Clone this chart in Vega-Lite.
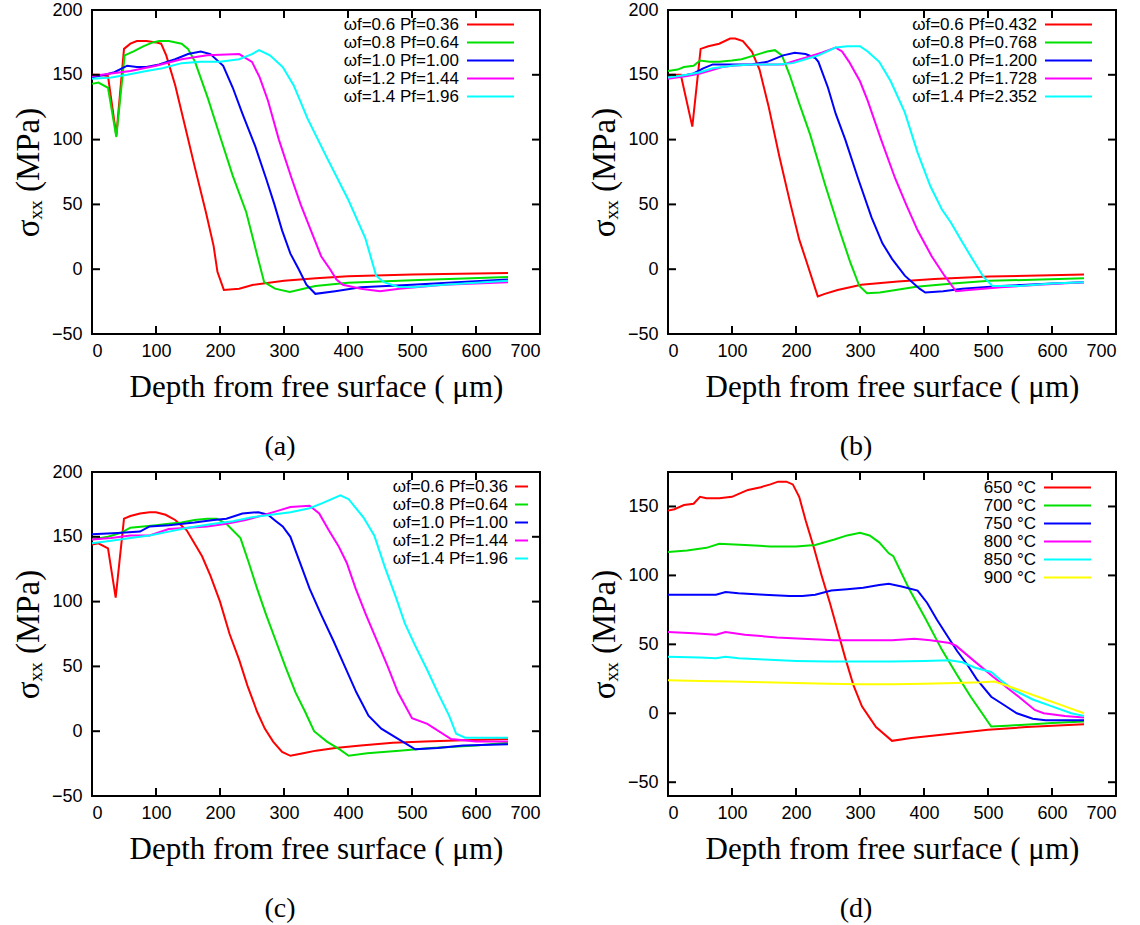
{
  "$schema": "https://vega.github.io/schema/vega-lite/v6.json",
  "padding": {"left": 11, "top": 0, "right": 5, "bottom": 5},
  "background": "white",
  "config": {
    "view": {"stroke": "#000", "strokeWidth": 2},
    "axis": {"grid": false, "domain": false, "ticks": false, "labelFont": "Liberation Sans", "labelFontSize": 18, "labelColor": "#000", "titleFont": "Liberation Serif", "titleFontSize": 31, "titleFontWeight": "normal", "titleColor": "#000"},
    "legend": {"title": null, "orient": "none", "symbolStrokeWidth": 2, "labelAlign": "right", "rowPadding": 0, "padding": 0, "labelLimit": 300, "labelFont": "Liberation Sans", "labelFontSize": 17, "labelColor": "#000"},
    "tick": {"color": "#000", "thickness": 2, "size": 8, "opacity": 1},
    "title": {"font": "Liberation Serif", "fontSize": 28, "fontWeight": "normal", "color": "#000", "orient": "bottom", "anchor": "middle", "dx": -36, "offset": 31}
  },
  "columns": 2,
  "spacing": {"row": 138, "column": 128},
  "bounds": "flush",
  "resolve": {"scale": {"x": "independent", "y": "independent", "color": "independent"}, "legend": {"color": "independent"}},
  "datasets": {
    "tx": [{"t":0},{"t":100},{"t":200},{"t":300},{"t":400},{"t":500},{"t":600},{"t":700}],
    "ty": [{"t":-50},{"t":0},{"t":50},{"t":100},{"t":150},{"t":200}],
    "tyd": [{"t":-50},{"t":0},{"t":50},{"t":100},{"t":150}],
    "a": [
      {"s":"ωf=0.6 Pf=0.36","x":0,"y":150},{"s":"ωf=0.6 Pf=0.36","x":10,"y":150},{"s":"ωf=0.6 Pf=0.36","x":25,"y":149},{"s":"ωf=0.6 Pf=0.36","x":38,"y":103},{"s":"ωf=0.6 Pf=0.36","x":50,"y":170},{"s":"ωf=0.6 Pf=0.36","x":60,"y":174},{"s":"ωf=0.6 Pf=0.36","x":70,"y":176},{"s":"ωf=0.6 Pf=0.36","x":85,"y":176},{"s":"ωf=0.6 Pf=0.36","x":100,"y":175},{"s":"ωf=0.6 Pf=0.36","x":108,"y":174},{"s":"ωf=0.6 Pf=0.36","x":116,"y":165},{"s":"ωf=0.6 Pf=0.36","x":130,"y":142},{"s":"ωf=0.6 Pf=0.36","x":145,"y":111},{"s":"ωf=0.6 Pf=0.36","x":161,"y":78},{"s":"ωf=0.6 Pf=0.36","x":178,"y":44},{"s":"ωf=0.6 Pf=0.36","x":190,"y":18},{"s":"ωf=0.6 Pf=0.36","x":196,"y":-2},{"s":"ωf=0.6 Pf=0.36","x":206,"y":-16},{"s":"ωf=0.6 Pf=0.36","x":230,"y":-15},{"s":"ωf=0.6 Pf=0.36","x":252,"y":-12},{"s":"ωf=0.6 Pf=0.36","x":300,"y":-9},{"s":"ωf=0.6 Pf=0.36","x":350,"y":-7},{"s":"ωf=0.6 Pf=0.36","x":400,"y":-5.5},{"s":"ωf=0.6 Pf=0.36","x":500,"y":-4},{"s":"ωf=0.6 Pf=0.36","x":650,"y":-3},
      {"s":"ωf=0.8 Pf=0.64","x":0,"y":143},{"s":"ωf=0.8 Pf=0.64","x":10,"y":144},{"s":"ωf=0.8 Pf=0.64","x":25,"y":140},{"s":"ωf=0.8 Pf=0.64","x":38,"y":102},{"s":"ωf=0.8 Pf=0.64","x":51,"y":165},{"s":"ωf=0.8 Pf=0.64","x":65,"y":168},{"s":"ωf=0.8 Pf=0.64","x":80,"y":172},{"s":"ωf=0.8 Pf=0.64","x":95,"y":175},{"s":"ωf=0.8 Pf=0.64","x":105,"y":176},{"s":"ωf=0.8 Pf=0.64","x":120,"y":176},{"s":"ωf=0.8 Pf=0.64","x":140,"y":174},{"s":"ωf=0.8 Pf=0.64","x":150,"y":170},{"s":"ωf=0.8 Pf=0.64","x":161,"y":160},{"s":"ωf=0.8 Pf=0.64","x":181,"y":132},{"s":"ωf=0.8 Pf=0.64","x":201,"y":101},{"s":"ωf=0.8 Pf=0.64","x":220,"y":72},{"s":"ωf=0.8 Pf=0.64","x":241,"y":44},{"s":"ωf=0.8 Pf=0.64","x":258,"y":11},{"s":"ωf=0.8 Pf=0.64","x":269,"y":-10},{"s":"ωf=0.8 Pf=0.64","x":286,"y":-15},{"s":"ωf=0.8 Pf=0.64","x":309,"y":-17.5},{"s":"ωf=0.8 Pf=0.64","x":349,"y":-13},{"s":"ωf=0.8 Pf=0.64","x":400,"y":-10.5},{"s":"ωf=0.8 Pf=0.64","x":500,"y":-8.5},{"s":"ωf=0.8 Pf=0.64","x":650,"y":-6},
      {"s":"ωf=1.0 Pf=1.00","x":0,"y":148},{"s":"ωf=1.0 Pf=1.00","x":20,"y":150},{"s":"ωf=1.0 Pf=1.00","x":35,"y":152},{"s":"ωf=1.0 Pf=1.00","x":55,"y":157},{"s":"ωf=1.0 Pf=1.00","x":70,"y":156},{"s":"ωf=1.0 Pf=1.00","x":85,"y":156},{"s":"ωf=1.0 Pf=1.00","x":105,"y":158},{"s":"ωf=1.0 Pf=1.00","x":130,"y":162},{"s":"ωf=1.0 Pf=1.00","x":150,"y":166},{"s":"ωf=1.0 Pf=1.00","x":170,"y":168},{"s":"ωf=1.0 Pf=1.00","x":185,"y":166},{"s":"ωf=1.0 Pf=1.00","x":205,"y":157},{"s":"ωf=1.0 Pf=1.00","x":220,"y":140},{"s":"ωf=1.0 Pf=1.00","x":235,"y":120},{"s":"ωf=1.0 Pf=1.00","x":255,"y":95},{"s":"ωf=1.0 Pf=1.00","x":272,"y":70},{"s":"ωf=1.0 Pf=1.00","x":285,"y":50},{"s":"ωf=1.0 Pf=1.00","x":297,"y":30},{"s":"ωf=1.0 Pf=1.00","x":310,"y":12},{"s":"ωf=1.0 Pf=1.00","x":323,"y":0},{"s":"ωf=1.0 Pf=1.00","x":335,"y":-12},{"s":"ωf=1.0 Pf=1.00","x":349,"y":-19},{"s":"ωf=1.0 Pf=1.00","x":380,"y":-17},{"s":"ωf=1.0 Pf=1.00","x":420,"y":-14},{"s":"ωf=1.0 Pf=1.00","x":500,"y":-12},{"s":"ωf=1.0 Pf=1.00","x":570,"y":-10},{"s":"ωf=1.0 Pf=1.00","x":650,"y":-8},
      {"s":"ωf=1.2 Pf=1.44","x":0,"y":149},{"s":"ωf=1.2 Pf=1.44","x":30,"y":151},{"s":"ωf=1.2 Pf=1.44","x":60,"y":153},{"s":"ωf=1.2 Pf=1.44","x":100,"y":157},{"s":"ωf=1.2 Pf=1.44","x":140,"y":162},{"s":"ωf=1.2 Pf=1.44","x":180,"y":165},{"s":"ωf=1.2 Pf=1.44","x":230,"y":166},{"s":"ωf=1.2 Pf=1.44","x":250,"y":160},{"s":"ωf=1.2 Pf=1.44","x":262,"y":148},{"s":"ωf=1.2 Pf=1.44","x":275,"y":130},{"s":"ωf=1.2 Pf=1.44","x":292,"y":100},{"s":"ωf=1.2 Pf=1.44","x":312,"y":70},{"s":"ωf=1.2 Pf=1.44","x":326,"y":50},{"s":"ωf=1.2 Pf=1.44","x":342,"y":30},{"s":"ωf=1.2 Pf=1.44","x":358,"y":10},{"s":"ωf=1.2 Pf=1.44","x":372,"y":0},{"s":"ωf=1.2 Pf=1.44","x":382,"y":-8},{"s":"ωf=1.2 Pf=1.44","x":392,"y":-12},{"s":"ωf=1.2 Pf=1.44","x":420,"y":-15},{"s":"ωf=1.2 Pf=1.44","x":450,"y":-17},{"s":"ωf=1.2 Pf=1.44","x":480,"y":-15},{"s":"ωf=1.2 Pf=1.44","x":550,"y":-12},{"s":"ωf=1.2 Pf=1.44","x":650,"y":-10},
      {"s":"ωf=1.4 Pf=1.96","x":0,"y":147},{"s":"ωf=1.4 Pf=1.96","x":30,"y":148},{"s":"ωf=1.4 Pf=1.96","x":55,"y":150},{"s":"ωf=1.4 Pf=1.96","x":85,"y":153},{"s":"ωf=1.4 Pf=1.96","x":110,"y":155},{"s":"ωf=1.4 Pf=1.96","x":140,"y":159},{"s":"ωf=1.4 Pf=1.96","x":170,"y":160},{"s":"ωf=1.4 Pf=1.96","x":200,"y":160},{"s":"ωf=1.4 Pf=1.96","x":230,"y":162},{"s":"ωf=1.4 Pf=1.96","x":250,"y":166},{"s":"ωf=1.4 Pf=1.96","x":261,"y":169},{"s":"ωf=1.4 Pf=1.96","x":278,"y":165},{"s":"ωf=1.4 Pf=1.96","x":298,"y":156},{"s":"ωf=1.4 Pf=1.96","x":315,"y":142},{"s":"ωf=1.4 Pf=1.96","x":337,"y":116},{"s":"ωf=1.4 Pf=1.96","x":365,"y":88},{"s":"ωf=1.4 Pf=1.96","x":400,"y":54},{"s":"ωf=1.4 Pf=1.96","x":427,"y":24},{"s":"ωf=1.4 Pf=1.96","x":444,"y":-5},{"s":"ωf=1.4 Pf=1.96","x":456,"y":-10},{"s":"ωf=1.4 Pf=1.96","x":478,"y":-13.5},{"s":"ωf=1.4 Pf=1.96","x":500,"y":-14},{"s":"ωf=1.4 Pf=1.96","x":550,"y":-12},{"s":"ωf=1.4 Pf=1.96","x":650,"y":-9}
    ],
    "b": [
      {"s":"ωf=0.6 Pf=0.432","x":0,"y":150},{"s":"ωf=0.6 Pf=0.432","x":20,"y":150},{"s":"ωf=0.6 Pf=0.432","x":38,"y":110},{"s":"ωf=0.6 Pf=0.432","x":51,"y":170},{"s":"ωf=0.6 Pf=0.432","x":63,"y":172},{"s":"ωf=0.6 Pf=0.432","x":80,"y":174},{"s":"ωf=0.6 Pf=0.432","x":97,"y":178},{"s":"ωf=0.6 Pf=0.432","x":105,"y":178},{"s":"ωf=0.6 Pf=0.432","x":117,"y":176},{"s":"ωf=0.6 Pf=0.432","x":131,"y":168},{"s":"ωf=0.6 Pf=0.432","x":143,"y":154},{"s":"ωf=0.6 Pf=0.432","x":157,"y":126},{"s":"ωf=0.6 Pf=0.432","x":174,"y":87},{"s":"ωf=0.6 Pf=0.432","x":191,"y":51},{"s":"ωf=0.6 Pf=0.432","x":205,"y":23},{"s":"ωf=0.6 Pf=0.432","x":217,"y":5},{"s":"ωf=0.6 Pf=0.432","x":234,"y":-21},{"s":"ωf=0.6 Pf=0.432","x":245,"y":-19},{"s":"ωf=0.6 Pf=0.432","x":265,"y":-16},{"s":"ωf=0.6 Pf=0.432","x":302,"y":-12},{"s":"ωf=0.6 Pf=0.432","x":359,"y":-9.5},{"s":"ωf=0.6 Pf=0.432","x":416,"y":-7.5},{"s":"ωf=0.6 Pf=0.432","x":502,"y":-5.7},{"s":"ωf=0.6 Pf=0.432","x":650,"y":-4},
      {"s":"ωf=0.8 Pf=0.768","x":0,"y":153},{"s":"ωf=0.8 Pf=0.768","x":15,"y":154},{"s":"ωf=0.8 Pf=0.768","x":25,"y":156},{"s":"ωf=0.8 Pf=0.768","x":40,"y":157},{"s":"ωf=0.8 Pf=0.768","x":50,"y":161},{"s":"ωf=0.8 Pf=0.768","x":65,"y":160},{"s":"ωf=0.8 Pf=0.768","x":80,"y":160},{"s":"ωf=0.8 Pf=0.768","x":100,"y":161},{"s":"ωf=0.8 Pf=0.768","x":115,"y":162},{"s":"ωf=0.8 Pf=0.768","x":135,"y":165},{"s":"ωf=0.8 Pf=0.768","x":155,"y":168},{"s":"ωf=0.8 Pf=0.768","x":167,"y":169},{"s":"ωf=0.8 Pf=0.768","x":178,"y":165},{"s":"ωf=0.8 Pf=0.768","x":190,"y":150},{"s":"ωf=0.8 Pf=0.768","x":205,"y":128},{"s":"ωf=0.8 Pf=0.768","x":222,"y":104},{"s":"ωf=0.8 Pf=0.768","x":245,"y":66},{"s":"ωf=0.8 Pf=0.768","x":268,"y":30},{"s":"ωf=0.8 Pf=0.768","x":285,"y":5},{"s":"ωf=0.8 Pf=0.768","x":299,"y":-13},{"s":"ωf=0.8 Pf=0.768","x":311,"y":-18.6},{"s":"ωf=0.8 Pf=0.768","x":331,"y":-18},{"s":"ωf=0.8 Pf=0.768","x":388,"y":-13.5},{"s":"ωf=0.8 Pf=0.768","x":445,"y":-11},{"s":"ωf=0.8 Pf=0.768","x":502,"y":-9},{"s":"ωf=0.8 Pf=0.768","x":650,"y":-7},
      {"s":"ωf=1.0 Pf=1.200","x":0,"y":148},{"s":"ωf=1.0 Pf=1.200","x":20,"y":149},{"s":"ωf=1.0 Pf=1.200","x":40,"y":151},{"s":"ωf=1.0 Pf=1.200","x":55,"y":155},{"s":"ωf=1.0 Pf=1.200","x":70,"y":158},{"s":"ωf=1.0 Pf=1.200","x":100,"y":158},{"s":"ωf=1.0 Pf=1.200","x":130,"y":158},{"s":"ωf=1.0 Pf=1.200","x":155,"y":160},{"s":"ωf=1.0 Pf=1.200","x":180,"y":165},{"s":"ωf=1.0 Pf=1.200","x":198,"y":167},{"s":"ωf=1.0 Pf=1.200","x":215,"y":166},{"s":"ωf=1.0 Pf=1.200","x":230,"y":163},{"s":"ωf=1.0 Pf=1.200","x":235,"y":160},{"s":"ωf=1.0 Pf=1.200","x":250,"y":140},{"s":"ωf=1.0 Pf=1.200","x":262,"y":120},{"s":"ωf=1.0 Pf=1.200","x":277,"y":100},{"s":"ωf=1.0 Pf=1.200","x":297,"y":70},{"s":"ωf=1.0 Pf=1.200","x":318,"y":40},{"s":"ωf=1.0 Pf=1.200","x":335,"y":20},{"s":"ωf=1.0 Pf=1.200","x":350,"y":8},{"s":"ωf=1.0 Pf=1.200","x":370,"y":-5},{"s":"ωf=1.0 Pf=1.200","x":393,"y":-15},{"s":"ωf=1.0 Pf=1.200","x":402,"y":-18},{"s":"ωf=1.0 Pf=1.200","x":430,"y":-17},{"s":"ωf=1.0 Pf=1.200","x":460,"y":-15},{"s":"ωf=1.0 Pf=1.200","x":520,"y":-13},{"s":"ωf=1.0 Pf=1.200","x":600,"y":-11},{"s":"ωf=1.0 Pf=1.200","x":650,"y":-10},
      {"s":"ωf=1.2 Pf=1.728","x":0,"y":147},{"s":"ωf=1.2 Pf=1.728","x":30,"y":149},{"s":"ωf=1.2 Pf=1.728","x":50,"y":151},{"s":"ωf=1.2 Pf=1.728","x":65,"y":153},{"s":"ωf=1.2 Pf=1.728","x":85,"y":156},{"s":"ωf=1.2 Pf=1.728","x":100,"y":157},{"s":"ωf=1.2 Pf=1.728","x":130,"y":158},{"s":"ωf=1.2 Pf=1.728","x":160,"y":158},{"s":"ωf=1.2 Pf=1.728","x":180,"y":158},{"s":"ωf=1.2 Pf=1.728","x":200,"y":161},{"s":"ωf=1.2 Pf=1.728","x":220,"y":164},{"s":"ωf=1.2 Pf=1.728","x":240,"y":167},{"s":"ωf=1.2 Pf=1.728","x":262,"y":171},{"s":"ωf=1.2 Pf=1.728","x":272,"y":168},{"s":"ωf=1.2 Pf=1.728","x":283,"y":160},{"s":"ωf=1.2 Pf=1.728","x":300,"y":145},{"s":"ωf=1.2 Pf=1.728","x":312,"y":130},{"s":"ωf=1.2 Pf=1.728","x":333,"y":100},{"s":"ωf=1.2 Pf=1.728","x":355,"y":70},{"s":"ωf=1.2 Pf=1.728","x":372,"y":50},{"s":"ωf=1.2 Pf=1.728","x":390,"y":30},{"s":"ωf=1.2 Pf=1.728","x":412,"y":10},{"s":"ωf=1.2 Pf=1.728","x":432,"y":-5},{"s":"ωf=1.2 Pf=1.728","x":450,"y":-17},{"s":"ωf=1.2 Pf=1.728","x":470,"y":-16},{"s":"ωf=1.2 Pf=1.728","x":520,"y":-14},{"s":"ωf=1.2 Pf=1.728","x":580,"y":-12},{"s":"ωf=1.2 Pf=1.728","x":650,"y":-10},
      {"s":"ωf=1.4 Pf=2.352","x":0,"y":148},{"s":"ωf=1.4 Pf=2.352","x":30,"y":150},{"s":"ωf=1.4 Pf=2.352","x":50,"y":152},{"s":"ωf=1.4 Pf=2.352","x":70,"y":155},{"s":"ωf=1.4 Pf=2.352","x":100,"y":157},{"s":"ωf=1.4 Pf=2.352","x":130,"y":158},{"s":"ωf=1.4 Pf=2.352","x":170,"y":158},{"s":"ωf=1.4 Pf=2.352","x":195,"y":159},{"s":"ωf=1.4 Pf=2.352","x":215,"y":162},{"s":"ωf=1.4 Pf=2.352","x":235,"y":165},{"s":"ωf=1.4 Pf=2.352","x":262,"y":171},{"s":"ωf=1.4 Pf=2.352","x":280,"y":172},{"s":"ωf=1.4 Pf=2.352","x":300,"y":172},{"s":"ωf=1.4 Pf=2.352","x":312,"y":168},{"s":"ωf=1.4 Pf=2.352","x":330,"y":160},{"s":"ωf=1.4 Pf=2.352","x":348,"y":145},{"s":"ωf=1.4 Pf=2.352","x":370,"y":121},{"s":"ωf=1.4 Pf=2.352","x":390,"y":90},{"s":"ωf=1.4 Pf=2.352","x":410,"y":64},{"s":"ωf=1.4 Pf=2.352","x":428,"y":46},{"s":"ωf=1.4 Pf=2.352","x":442,"y":36},{"s":"ωf=1.4 Pf=2.352","x":456,"y":24},{"s":"ωf=1.4 Pf=2.352","x":473,"y":10},{"s":"ωf=1.4 Pf=2.352","x":493,"y":-6},{"s":"ωf=1.4 Pf=2.352","x":507,"y":-13},{"s":"ωf=1.4 Pf=2.352","x":550,"y":-13},{"s":"ωf=1.4 Pf=2.352","x":600,"y":-11},{"s":"ωf=1.4 Pf=2.352","x":650,"y":-10}
    ],
    "c": [
      {"s":"ωf=0.6 Pf=0.36","x":0,"y":144},{"s":"ωf=0.6 Pf=0.36","x":10,"y":145},{"s":"ωf=0.6 Pf=0.36","x":25,"y":141},{"s":"ωf=0.6 Pf=0.36","x":37,"y":103},{"s":"ωf=0.6 Pf=0.36","x":50,"y":164},{"s":"ωf=0.6 Pf=0.36","x":60,"y":166},{"s":"ωf=0.6 Pf=0.36","x":75,"y":168},{"s":"ωf=0.6 Pf=0.36","x":90,"y":169},{"s":"ωf=0.6 Pf=0.36","x":100,"y":169},{"s":"ωf=0.6 Pf=0.36","x":115,"y":167},{"s":"ωf=0.6 Pf=0.36","x":130,"y":163},{"s":"ωf=0.6 Pf=0.36","x":148,"y":155},{"s":"ωf=0.6 Pf=0.36","x":160,"y":145},{"s":"ωf=0.6 Pf=0.36","x":172,"y":135},{"s":"ωf=0.6 Pf=0.36","x":185,"y":120},{"s":"ωf=0.6 Pf=0.36","x":200,"y":100},{"s":"ωf=0.6 Pf=0.36","x":215,"y":75},{"s":"ωf=0.6 Pf=0.36","x":230,"y":55},{"s":"ωf=0.6 Pf=0.36","x":243,"y":35},{"s":"ωf=0.6 Pf=0.36","x":258,"y":15},{"s":"ωf=0.6 Pf=0.36","x":270,"y":2},{"s":"ωf=0.6 Pf=0.36","x":283,"y":-8},{"s":"ωf=0.6 Pf=0.36","x":297,"y":-16},{"s":"ωf=0.6 Pf=0.36","x":310,"y":-19},{"s":"ωf=0.6 Pf=0.36","x":330,"y":-17},{"s":"ωf=0.6 Pf=0.36","x":350,"y":-15},{"s":"ωf=0.6 Pf=0.36","x":380,"y":-13},{"s":"ωf=0.6 Pf=0.36","x":420,"y":-11},{"s":"ωf=0.6 Pf=0.36","x":470,"y":-9},{"s":"ωf=0.6 Pf=0.36","x":520,"y":-8},{"s":"ωf=0.6 Pf=0.36","x":580,"y":-7},{"s":"ωf=0.6 Pf=0.36","x":650,"y":-6},
      {"s":"ωf=0.8 Pf=0.64","x":0,"y":148},{"s":"ωf=0.8 Pf=0.64","x":25,"y":150},{"s":"ωf=0.8 Pf=0.64","x":45,"y":153},{"s":"ωf=0.8 Pf=0.64","x":60,"y":157},{"s":"ωf=0.8 Pf=0.64","x":80,"y":158},{"s":"ωf=0.8 Pf=0.64","x":100,"y":159},{"s":"ωf=0.8 Pf=0.64","x":120,"y":160},{"s":"ωf=0.8 Pf=0.64","x":140,"y":161},{"s":"ωf=0.8 Pf=0.64","x":160,"y":163},{"s":"ωf=0.8 Pf=0.64","x":180,"y":164},{"s":"ωf=0.8 Pf=0.64","x":195,"y":164},{"s":"ωf=0.8 Pf=0.64","x":210,"y":160},{"s":"ωf=0.8 Pf=0.64","x":232,"y":149},{"s":"ωf=0.8 Pf=0.64","x":245,"y":130},{"s":"ωf=0.8 Pf=0.64","x":258,"y":110},{"s":"ωf=0.8 Pf=0.64","x":272,"y":90},{"s":"ωf=0.8 Pf=0.64","x":287,"y":70},{"s":"ωf=0.8 Pf=0.64","x":302,"y":50},{"s":"ωf=0.8 Pf=0.64","x":318,"y":30},{"s":"ωf=0.8 Pf=0.64","x":333,"y":15},{"s":"ωf=0.8 Pf=0.64","x":347,"y":0},{"s":"ωf=0.8 Pf=0.64","x":367,"y":-8},{"s":"ωf=0.8 Pf=0.64","x":387,"y":-14},{"s":"ωf=0.8 Pf=0.64","x":401,"y":-19},{"s":"ωf=0.8 Pf=0.64","x":430,"y":-17},{"s":"ωf=0.8 Pf=0.64","x":480,"y":-15},{"s":"ωf=0.8 Pf=0.64","x":530,"y":-13},{"s":"ωf=0.8 Pf=0.64","x":600,"y":-11},{"s":"ωf=0.8 Pf=0.64","x":650,"y":-9},
      {"s":"ωf=1.0 Pf=1.00","x":0,"y":152},{"s":"ωf=1.0 Pf=1.00","x":40,"y":153},{"s":"ωf=1.0 Pf=1.00","x":75,"y":154},{"s":"ωf=1.0 Pf=1.00","x":90,"y":158},{"s":"ωf=1.0 Pf=1.00","x":120,"y":159},{"s":"ωf=1.0 Pf=1.00","x":160,"y":161},{"s":"ωf=1.0 Pf=1.00","x":190,"y":163},{"s":"ωf=1.0 Pf=1.00","x":210,"y":164},{"s":"ωf=1.0 Pf=1.00","x":235,"y":168},{"s":"ωf=1.0 Pf=1.00","x":260,"y":169},{"s":"ωf=1.0 Pf=1.00","x":275,"y":167},{"s":"ωf=1.0 Pf=1.00","x":285,"y":163},{"s":"ωf=1.0 Pf=1.00","x":298,"y":158},{"s":"ωf=1.0 Pf=1.00","x":310,"y":150},{"s":"ωf=1.0 Pf=1.00","x":325,"y":130},{"s":"ωf=1.0 Pf=1.00","x":340,"y":110},{"s":"ωf=1.0 Pf=1.00","x":358,"y":90},{"s":"ωf=1.0 Pf=1.00","x":377,"y":70},{"s":"ωf=1.0 Pf=1.00","x":395,"y":50},{"s":"ωf=1.0 Pf=1.00","x":413,"y":30},{"s":"ωf=1.0 Pf=1.00","x":432,"y":12},{"s":"ωf=1.0 Pf=1.00","x":452,"y":2},{"s":"ωf=1.0 Pf=1.00","x":475,"y":-5},{"s":"ωf=1.0 Pf=1.00","x":505,"y":-14},{"s":"ωf=1.0 Pf=1.00","x":540,"y":-13},{"s":"ωf=1.0 Pf=1.00","x":580,"y":-11},{"s":"ωf=1.0 Pf=1.00","x":650,"y":-10},
      {"s":"ωf=1.2 Pf=1.44","x":0,"y":148},{"s":"ωf=1.2 Pf=1.44","x":30,"y":149},{"s":"ωf=1.2 Pf=1.44","x":60,"y":151},{"s":"ωf=1.2 Pf=1.44","x":90,"y":151},{"s":"ωf=1.2 Pf=1.44","x":120,"y":156},{"s":"ωf=1.2 Pf=1.44","x":150,"y":157},{"s":"ωf=1.2 Pf=1.44","x":180,"y":158},{"s":"ωf=1.2 Pf=1.44","x":210,"y":160},{"s":"ωf=1.2 Pf=1.44","x":240,"y":163},{"s":"ωf=1.2 Pf=1.44","x":270,"y":167},{"s":"ωf=1.2 Pf=1.44","x":290,"y":170},{"s":"ωf=1.2 Pf=1.44","x":310,"y":173},{"s":"ωf=1.2 Pf=1.44","x":340,"y":174},{"s":"ωf=1.2 Pf=1.44","x":355,"y":168},{"s":"ωf=1.2 Pf=1.44","x":370,"y":155},{"s":"ωf=1.2 Pf=1.44","x":385,"y":143},{"s":"ωf=1.2 Pf=1.44","x":398,"y":130},{"s":"ωf=1.2 Pf=1.44","x":412,"y":110},{"s":"ωf=1.2 Pf=1.44","x":428,"y":90},{"s":"ωf=1.2 Pf=1.44","x":445,"y":70},{"s":"ωf=1.2 Pf=1.44","x":462,"y":50},{"s":"ωf=1.2 Pf=1.44","x":478,"y":30},{"s":"ωf=1.2 Pf=1.44","x":500,"y":10},{"s":"ωf=1.2 Pf=1.44","x":524,"y":5.7},{"s":"ωf=1.2 Pf=1.44","x":561,"y":-6},{"s":"ωf=1.2 Pf=1.44","x":600,"y":-8},{"s":"ωf=1.2 Pf=1.44","x":650,"y":-8},
      {"s":"ωf=1.4 Pf=1.96","x":0,"y":145},{"s":"ωf=1.4 Pf=1.96","x":30,"y":147},{"s":"ωf=1.4 Pf=1.96","x":60,"y":149},{"s":"ωf=1.4 Pf=1.96","x":90,"y":151},{"s":"ωf=1.4 Pf=1.96","x":120,"y":154},{"s":"ωf=1.4 Pf=1.96","x":150,"y":157},{"s":"ωf=1.4 Pf=1.96","x":190,"y":160},{"s":"ωf=1.4 Pf=1.96","x":220,"y":162},{"s":"ωf=1.4 Pf=1.96","x":250,"y":165},{"s":"ωf=1.4 Pf=1.96","x":280,"y":167},{"s":"ωf=1.4 Pf=1.96","x":310,"y":169},{"s":"ωf=1.4 Pf=1.96","x":340,"y":172},{"s":"ωf=1.4 Pf=1.96","x":360,"y":176},{"s":"ωf=1.4 Pf=1.96","x":388,"y":182},{"s":"ωf=1.4 Pf=1.96","x":401,"y":179},{"s":"ωf=1.4 Pf=1.96","x":424,"y":165},{"s":"ωf=1.4 Pf=1.96","x":441,"y":151},{"s":"ωf=1.4 Pf=1.96","x":458,"y":126},{"s":"ωf=1.4 Pf=1.96","x":475,"y":103},{"s":"ωf=1.4 Pf=1.96","x":489,"y":83},{"s":"ωf=1.4 Pf=1.96","x":504,"y":67},{"s":"ωf=1.4 Pf=1.96","x":524,"y":47},{"s":"ωf=1.4 Pf=1.96","x":541,"y":29},{"s":"ωf=1.4 Pf=1.96","x":558,"y":12},{"s":"ωf=1.4 Pf=1.96","x":569,"y":-2},{"s":"ωf=1.4 Pf=1.96","x":583,"y":-5},{"s":"ωf=1.4 Pf=1.96","x":650,"y":-5}
    ],
    "d": [
      {"s":"650 °C","x":0,"y":147},{"s":"650 °C","x":10,"y":148},{"s":"650 °C","x":25,"y":151},{"s":"650 °C","x":40,"y":152},{"s":"650 °C","x":50,"y":157},{"s":"650 °C","x":60,"y":156},{"s":"650 °C","x":80,"y":156},{"s":"650 °C","x":100,"y":157},{"s":"650 °C","x":115,"y":160},{"s":"650 °C","x":125,"y":162},{"s":"650 °C","x":145,"y":164},{"s":"650 °C","x":160,"y":166},{"s":"650 °C","x":172,"y":168},{"s":"650 °C","x":185,"y":168},{"s":"650 °C","x":195,"y":166},{"s":"650 °C","x":205,"y":157},{"s":"650 °C","x":215,"y":140},{"s":"650 °C","x":228,"y":120},{"s":"650 °C","x":240,"y":100},{"s":"650 °C","x":253,"y":80},{"s":"650 °C","x":265,"y":60},{"s":"650 °C","x":277,"y":40},{"s":"650 °C","x":290,"y":20},{"s":"650 °C","x":303,"y":5},{"s":"650 °C","x":325,"y":-10},{"s":"650 °C","x":350,"y":-20},{"s":"650 °C","x":380,"y":-18},{"s":"650 °C","x":420,"y":-16},{"s":"650 °C","x":460,"y":-14},{"s":"650 °C","x":500,"y":-12},{"s":"650 °C","x":560,"y":-10},{"s":"650 °C","x":650,"y":-8},
      {"s":"700 °C","x":0,"y":117},{"s":"700 °C","x":30,"y":118},{"s":"700 °C","x":60,"y":120},{"s":"700 °C","x":80,"y":123},{"s":"700 °C","x":120,"y":122},{"s":"700 °C","x":160,"y":121},{"s":"700 °C","x":200,"y":121},{"s":"700 °C","x":230,"y":122},{"s":"700 °C","x":260,"y":126},{"s":"700 °C","x":280,"y":129},{"s":"700 °C","x":300,"y":131},{"s":"700 °C","x":315,"y":129},{"s":"700 °C","x":330,"y":124},{"s":"700 °C","x":345,"y":116},{"s":"700 °C","x":352,"y":114},{"s":"700 °C","x":377,"y":90},{"s":"700 °C","x":402,"y":69},{"s":"700 °C","x":428,"y":46},{"s":"700 °C","x":450,"y":29},{"s":"700 °C","x":473,"y":12},{"s":"700 °C","x":505,"y":-9.6},{"s":"700 °C","x":530,"y":-9},{"s":"700 °C","x":570,"y":-8},{"s":"700 °C","x":600,"y":-7},{"s":"700 °C","x":650,"y":-6},
      {"s":"750 °C","x":0,"y":86},{"s":"750 °C","x":50,"y":86},{"s":"750 °C","x":75,"y":86},{"s":"750 °C","x":90,"y":88},{"s":"750 °C","x":110,"y":87},{"s":"750 °C","x":150,"y":86},{"s":"750 °C","x":190,"y":85},{"s":"750 °C","x":210,"y":85},{"s":"750 °C","x":230,"y":86},{"s":"750 °C","x":255,"y":89},{"s":"750 °C","x":280,"y":90},{"s":"750 °C","x":305,"y":91},{"s":"750 °C","x":330,"y":93},{"s":"750 °C","x":345,"y":94},{"s":"750 °C","x":365,"y":92},{"s":"750 °C","x":390,"y":89},{"s":"750 °C","x":405,"y":80},{"s":"750 °C","x":420,"y":68},{"s":"750 °C","x":438,"y":55},{"s":"750 °C","x":452,"y":45},{"s":"750 °C","x":468,"y":35},{"s":"750 °C","x":482,"y":25},{"s":"750 °C","x":505,"y":12},{"s":"750 °C","x":525,"y":6},{"s":"750 °C","x":545,"y":0},{"s":"750 °C","x":570,"y":-4},{"s":"750 °C","x":590,"y":-5},{"s":"750 °C","x":650,"y":-5},
      {"s":"800 °C","x":0,"y":59},{"s":"800 °C","x":40,"y":58},{"s":"800 °C","x":75,"y":57},{"s":"800 °C","x":90,"y":59},{"s":"800 °C","x":120,"y":57},{"s":"800 °C","x":170,"y":55},{"s":"800 °C","x":210,"y":54},{"s":"800 °C","x":260,"y":53},{"s":"800 °C","x":310,"y":53},{"s":"800 °C","x":350,"y":53},{"s":"800 °C","x":385,"y":54},{"s":"800 °C","x":410,"y":53},{"s":"800 °C","x":440,"y":51},{"s":"800 °C","x":450,"y":49},{"s":"800 °C","x":473,"y":40},{"s":"800 °C","x":508,"y":26.5},{"s":"800 °C","x":548,"y":12},{"s":"800 °C","x":573,"y":2.4},{"s":"800 °C","x":587,"y":0},{"s":"800 °C","x":620,"y":-2},{"s":"800 °C","x":650,"y":-3},
      {"s":"850 °C","x":0,"y":41},{"s":"850 °C","x":50,"y":40.5},{"s":"850 °C","x":75,"y":40},{"s":"850 °C","x":90,"y":41},{"s":"850 °C","x":110,"y":40},{"s":"850 °C","x":150,"y":39},{"s":"850 °C","x":200,"y":38},{"s":"850 °C","x":250,"y":37.5},{"s":"850 °C","x":300,"y":37.5},{"s":"850 °C","x":350,"y":37.5},{"s":"850 °C","x":400,"y":38},{"s":"850 °C","x":440,"y":38.5},{"s":"850 °C","x":460,"y":37},{"s":"850 °C","x":480,"y":33},{"s":"850 °C","x":505,"y":30},{"s":"850 °C","x":520,"y":24},{"s":"850 °C","x":540,"y":17},{"s":"850 °C","x":570,"y":10},{"s":"850 °C","x":600,"y":5},{"s":"850 °C","x":630,"y":0},{"s":"850 °C","x":650,"y":-2},
      {"s":"900 °C","x":0,"y":24},{"s":"900 °C","x":50,"y":23.5},{"s":"900 °C","x":100,"y":23},{"s":"900 °C","x":150,"y":22.5},{"s":"900 °C","x":200,"y":22},{"s":"900 °C","x":250,"y":21.5},{"s":"900 °C","x":300,"y":21},{"s":"900 °C","x":350,"y":21},{"s":"900 °C","x":400,"y":21.5},{"s":"900 °C","x":450,"y":22},{"s":"900 °C","x":490,"y":22.5},{"s":"900 °C","x":510,"y":23},{"s":"900 °C","x":530,"y":20},{"s":"900 °C","x":560,"y":15},{"s":"900 °C","x":590,"y":10},{"s":"900 °C","x":620,"y":5},{"s":"900 °C","x":650,"y":0}
    ]
  },
  "concat": [
    {
      "width": 448, "height": 324,
      "title": {"text": "(a)"},
      "resolve": {"axis": {"x": "independent", "y": "independent"}},
      "layer": [
        {"data": {"name": "a"}, "mark": {"type": "line", "strokeWidth": 2},
         "encoding": {
           "x": {"field": "x", "type": "quantitative", "scale": {"domain": [0, 700], "nice": false}, "axis": {"values": [0,100,200,300,400,500,600,700], "labelPadding": 8, "title": "Depth from free surface ( μm)", "titlePadding": 12}},
           "y": {"field": "y", "type": "quantitative", "scale": {"domain": [-50, 200], "nice": false}, "axis": {"values": [-50,0,50,100,150,200], "labelPadding": 10, "title": "σₓₓ   (MPa)", "titleFontSize": 33, "titlePadding": 6}},
           "color": {"field": "s", "type": "nominal", "scale": {"domain": ["ωf=0.6 Pf=0.36","ωf=0.8 Pf=0.64","ωf=1.0 Pf=1.00","ωf=1.2 Pf=1.44","ωf=1.4 Pf=1.96"], "range": ["#ff0000","#00e000","#0000ff","#ff00ff","#00ffff"]}, "legend": {"legendX": 390, "legendY": 6, "symbolType": "M-4,0L4,0", "symbolSize": 138, "labelOffset": -40}}
         }},
        {"data": {"name": "tx"}, "mark": {"type": "tick", "orient": "vertical", "yOffset": -4}, "encoding": {"x": {"field": "t", "type": "quantitative", "axis": null}, "y": {"datum": -50, "type": "quantitative", "axis": null}}},
        {"data": {"name": "tx"}, "mark": {"type": "tick", "orient": "vertical", "yOffset": 4}, "encoding": {"x": {"field": "t", "type": "quantitative", "axis": null}, "y": {"datum": 200, "type": "quantitative", "axis": null}}},
        {"data": {"name": "ty"}, "mark": {"type": "tick", "orient": "horizontal", "xOffset": 4}, "encoding": {"y": {"field": "t", "type": "quantitative", "axis": null}, "x": {"datum": 0, "type": "quantitative", "axis": null}}},
        {"data": {"name": "ty"}, "mark": {"type": "tick", "orient": "horizontal", "xOffset": -4}, "encoding": {"y": {"field": "t", "type": "quantitative", "axis": null}, "x": {"datum": 700, "type": "quantitative", "axis": null}}}
      ]
    },
    {
      "width": 448, "height": 324,
      "title": {"text": "(b)"},
      "resolve": {"axis": {"x": "independent", "y": "independent"}},
      "layer": [
        {"data": {"name": "b"}, "mark": {"type": "line", "strokeWidth": 2},
         "encoding": {
           "x": {"field": "x", "type": "quantitative", "scale": {"domain": [0, 700], "nice": false}, "axis": {"values": [0,100,200,300,400,500,600,700], "labelPadding": 8, "title": "Depth from free surface ( μm)", "titlePadding": 12}},
           "y": {"field": "y", "type": "quantitative", "scale": {"domain": [-50, 200], "nice": false}, "axis": {"values": [-50,0,50,100,150,200], "labelPadding": 10, "title": "σₓₓ   (MPa)", "titleFontSize": 33, "titlePadding": 6}},
           "color": {"field": "s", "type": "nominal", "scale": {"domain": ["ωf=0.6 Pf=0.432","ωf=0.8 Pf=0.768","ωf=1.0 Pf=1.200","ωf=1.2 Pf=1.728","ωf=1.4 Pf=2.352"], "range": ["#ff0000","#00e000","#0000ff","#ff00ff","#00ffff"]}, "legend": {"legendX": 392, "legendY": 6, "symbolType": "M-4,0L4,0", "symbolSize": 138, "labelOffset": -40}}
         }},
        {"data": {"name": "tx"}, "mark": {"type": "tick", "orient": "vertical", "yOffset": -4}, "encoding": {"x": {"field": "t", "type": "quantitative", "axis": null}, "y": {"datum": -50, "type": "quantitative", "axis": null}}},
        {"data": {"name": "tx"}, "mark": {"type": "tick", "orient": "vertical", "yOffset": 4}, "encoding": {"x": {"field": "t", "type": "quantitative", "axis": null}, "y": {"datum": 200, "type": "quantitative", "axis": null}}},
        {"data": {"name": "ty"}, "mark": {"type": "tick", "orient": "horizontal", "xOffset": 4}, "encoding": {"y": {"field": "t", "type": "quantitative", "axis": null}, "x": {"datum": 0, "type": "quantitative", "axis": null}}},
        {"data": {"name": "ty"}, "mark": {"type": "tick", "orient": "horizontal", "xOffset": -4}, "encoding": {"y": {"field": "t", "type": "quantitative", "axis": null}, "x": {"datum": 700, "type": "quantitative", "axis": null}}}
      ]
    },
    {
      "width": 448, "height": 324,
      "title": {"text": "(c)"},
      "resolve": {"axis": {"x": "independent", "y": "independent"}},
      "layer": [
        {"data": {"name": "c"}, "mark": {"type": "line", "strokeWidth": 2},
         "encoding": {
           "x": {"field": "x", "type": "quantitative", "scale": {"domain": [0, 700], "nice": false}, "axis": {"values": [0,100,200,300,400,500,600,700], "labelPadding": 8, "title": "Depth from free surface ( μm)", "titlePadding": 12}},
           "y": {"field": "y", "type": "quantitative", "scale": {"domain": [-50, 200], "nice": false}, "axis": {"values": [-50,0,50,100,150,200], "labelPadding": 10, "title": "σₓₓ   (MPa)", "titleFontSize": 33, "titlePadding": 6}},
           "color": {"field": "s", "type": "nominal", "scale": {"domain": ["ωf=0.6 Pf=0.36","ωf=0.8 Pf=0.64","ωf=1.0 Pf=1.00","ωf=1.2 Pf=1.44","ωf=1.4 Pf=1.96"], "range": ["#ff0000","#00e000","#0000ff","#ff00ff","#00ffff"]}, "legend": {"legendX": 421, "legendY": 6, "symbolType": "M-4,0L4,0", "symbolSize": 10.6, "labelOffset": -22}}
         }},
        {"data": {"name": "tx"}, "mark": {"type": "tick", "orient": "vertical", "yOffset": -4}, "encoding": {"x": {"field": "t", "type": "quantitative", "axis": null}, "y": {"datum": -50, "type": "quantitative", "axis": null}}},
        {"data": {"name": "tx"}, "mark": {"type": "tick", "orient": "vertical", "yOffset": 4}, "encoding": {"x": {"field": "t", "type": "quantitative", "axis": null}, "y": {"datum": 200, "type": "quantitative", "axis": null}}},
        {"data": {"name": "ty"}, "mark": {"type": "tick", "orient": "horizontal", "xOffset": 4}, "encoding": {"y": {"field": "t", "type": "quantitative", "axis": null}, "x": {"datum": 0, "type": "quantitative", "axis": null}}},
        {"data": {"name": "ty"}, "mark": {"type": "tick", "orient": "horizontal", "xOffset": -4}, "encoding": {"y": {"field": "t", "type": "quantitative", "axis": null}, "x": {"datum": 700, "type": "quantitative", "axis": null}}}
      ]
    },
    {
      "width": 448, "height": 324,
      "title": {"text": "(d)"},
      "resolve": {"axis": {"x": "independent", "y": "independent"}},
      "layer": [
        {"data": {"name": "d"}, "mark": {"type": "line", "strokeWidth": 2},
         "encoding": {
           "x": {"field": "x", "type": "quantitative", "scale": {"domain": [0, 700], "nice": false}, "axis": {"values": [0,100,200,300,400,500,600,700], "labelPadding": 8, "title": "Depth from free surface ( μm)", "titlePadding": 12}},
           "y": {"field": "y", "type": "quantitative", "scale": {"domain": [-60, 175], "nice": false}, "axis": {"values": [-50,0,50,100,150], "labelPadding": 10, "title": "σₓₓ   (MPa)", "titleFontSize": 33, "titlePadding": 6}},
           "color": {"field": "s", "type": "nominal", "scale": {"domain": ["650 °C","700 °C","750 °C","800 °C","850 °C","900 °C"], "range": ["#ff0000","#00e000","#0000ff","#ff00ff","#00ffff","#ffff00"]}, "legend": {"legendX": 391, "legendY": 7, "symbolType": "M-4,0L4,0", "symbolSize": 138, "labelOffset": -40}}
         }},
        {"data": {"name": "tx"}, "mark": {"type": "tick", "orient": "vertical", "yOffset": -4}, "encoding": {"x": {"field": "t", "type": "quantitative", "axis": null}, "y": {"datum": -60, "type": "quantitative", "axis": null}}},
        {"data": {"name": "tx"}, "mark": {"type": "tick", "orient": "vertical", "yOffset": 4}, "encoding": {"x": {"field": "t", "type": "quantitative", "axis": null}, "y": {"datum": 175, "type": "quantitative", "axis": null}}},
        {"data": {"name": "tyd"}, "mark": {"type": "tick", "orient": "horizontal", "xOffset": 4}, "encoding": {"y": {"field": "t", "type": "quantitative", "axis": null}, "x": {"datum": 0, "type": "quantitative", "axis": null}}},
        {"data": {"name": "tyd"}, "mark": {"type": "tick", "orient": "horizontal", "xOffset": -4}, "encoding": {"y": {"field": "t", "type": "quantitative", "axis": null}, "x": {"datum": 700, "type": "quantitative", "axis": null}}}
      ]
    }
  ]
}
